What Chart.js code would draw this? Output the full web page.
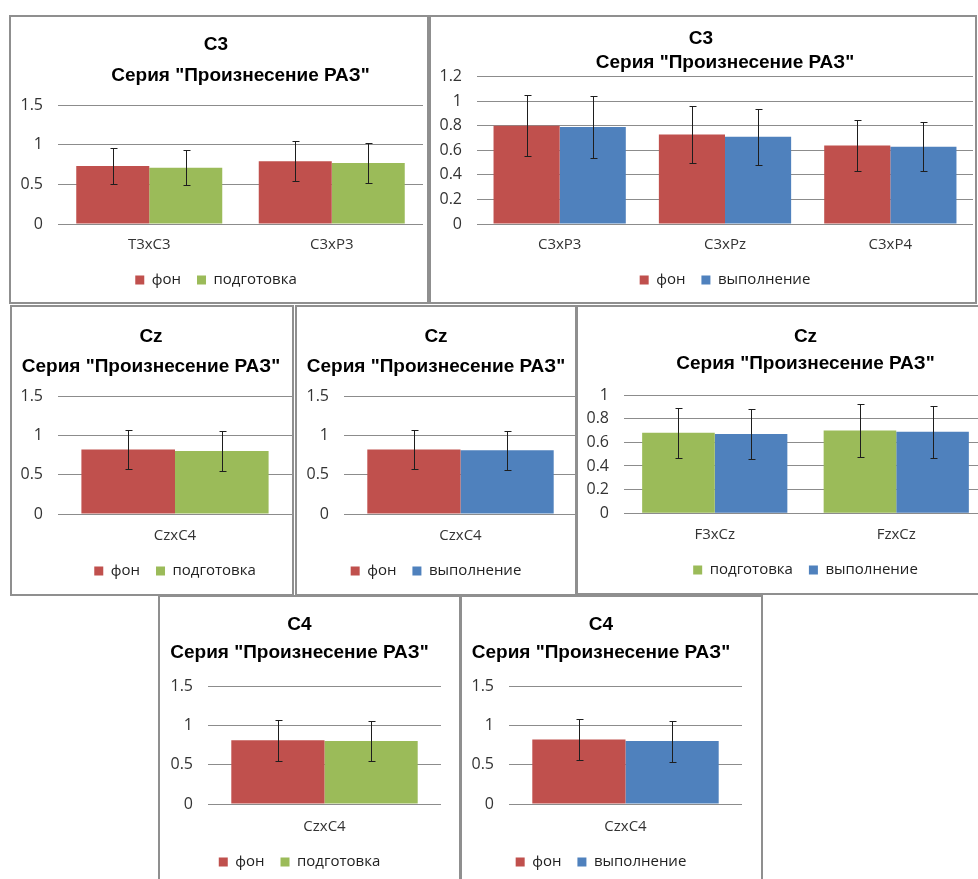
<!DOCTYPE html>
<html>
<head>
<meta charset="utf-8">
<script src="https://cdn.jsdelivr.net/npm/chart.js@4.4.0/dist/chart.umd.min.js"></script>
<style>
    html, body { margin: 0; padding: 0; background: #fff; width: 978px; height: 879px; overflow: hidden; }
    .panel { position: absolute; border: 2px solid #8f8f8f; box-sizing: border-box; }
    canvas { position: absolute; }
</style>
</head>
<body>
<script>
    // names
    const fonName = 'фон';
    const prepName = 'подготовка';
    const execName = 'выполнение';
    const subtitleText = 'Серия "Произнесение РАЗ"';

    // C3: фон / подготовка
    const c3PrepLabels = ['T3xC3', 'C3xP3'];
    const c3PrepFon = [0.73, 0.79];
    const c3PrepFonErr = [0.23, 0.25];
    const c3PrepPrep = [0.71, 0.77];
    const c3PrepPrepErr = [0.22, 0.25];

    // C3: фон / выполнение
    const c3ExecLabels = ['C3xP3', 'C3xPz', 'C3xP4'];
    const c3ExecFon = [0.80, 0.73, 0.64];
    const c3ExecFonErr = [0.25, 0.23, 0.21];
    const c3ExecExec = [0.79, 0.71, 0.63];
    const c3ExecExecErr = [0.25, 0.23, 0.20];

    // Cz: фон / подготовка
    const czPrepLabels = ['CzxC4'];
    const czPrepFon = [0.82];
    const czPrepFonErr = [0.25];
    const czPrepPrep = [0.80];
    const czPrepPrepErr = [0.25];

    // Cz: фон / выполнение
    const czExecLabels = ['CzxC4'];
    const czExecFon = [0.82];
    const czExecFonErr = [0.25];
    const czExecExec = [0.81];
    const czExecExecErr = [0.25];

    // Cz: подготовка / выполнение
    const czPeLabels = ['F3xCz', 'FzxCz'];
    const czPePrep = [0.68, 0.70];
    const czPePrepErr = [0.21, 0.22];
    const czPeExec = [0.67, 0.69];
    const czPeExecErr = [0.21, 0.22];

    // C4: фон / подготовка
    const c4PrepLabels = ['CzxC4'];
    const c4PrepFon = [0.81];
    const c4PrepFonErr = [0.26];
    const c4PrepPrep = [0.80];
    const c4PrepPrepErr = [0.25];

    // C4: фон / выполнение
    const c4ExecLabels = ['CzxC4'];
    const c4ExecFon = [0.82];
    const c4ExecFonErr = [0.26];
    const c4ExecExec = [0.80];
    const c4ExecExecErr = [0.26];

    const RED = '#c0504d', GREEN = '#9bbb59', BLUE = '#4f81bd';

    // box: [x, y, w, h]  area: [left, top, right, bottom]  full: title/subtitle/legend fullSize
    const panels = [
        { box: [9, 15, 420, 289], area: [58, 105, 423, 224], titleY: 45, subY: 76, tickY: 245, legendY: 280,
          title: 'C3', labels: c3PrepLabels, yMax: 1.5, yStep: 0.5, full: [true, false, true],
          series: [[fonName, c3PrepFon, c3PrepFonErr, RED], [prepName, c3PrepPrep, c3PrepPrepErr, GREEN]] },
        { box: [429, 15, 548, 289], area: [477, 76.7, 973, 224], titleY: 39, subY: 63, tickY: 245, legendY: 280,
          title: 'C3', labels: c3ExecLabels, yMax: 1.2, yStep: 0.2, full: [true, false, false],
          series: [[fonName, c3ExecFon, c3ExecFonErr, RED], [execName, c3ExecExec, c3ExecExecErr, BLUE]] },
        { box: [10, 305, 284, 291], area: [58, 396, 292, 514], titleY: 337, subY: 367, tickY: 536, legendY: 571,
          title: 'Cz', labels: czPrepLabels, yMax: 1.5, yStep: 0.5, full: [true, true, false],
          series: [[fonName, czPrepFon, czPrepFonErr, RED], [prepName, czPrepPrep, czPrepPrepErr, GREEN]] },
        { box: [295, 305, 283, 291], area: [344, 396, 577, 514], titleY: 337, subY: 367, tickY: 536, legendY: 571,
          title: 'Cz', labels: czExecLabels, yMax: 1.5, yStep: 0.5, full: [true, true, true],
          series: [[fonName, czExecFon, czExecFonErr, RED], [execName, czExecExec, czExecExecErr, BLUE]] },
        { box: [575, 305, 412, 290], area: [624, 395, 987, 513.3], titleY: 337, subY: 364, tickY: 535, legendY: 570,
          title: 'Cz', labels: czPeLabels, yMax: 1, yStep: 0.2, full: [false, false, false],
          series: [[prepName, czPePrep, czPePrepErr, GREEN], [execName, czPeExec, czPeExecErr, BLUE]] },
        { box: [158, 595, 303, 300], area: [208, 686, 441, 804], titleY: 625, subY: 653, tickY: 827, legendY: 862,
          title: 'C4', labels: c4PrepLabels, yMax: 1.5, yStep: 0.5, full: [true, true, true],
          series: [[fonName, c4PrepFon, c4PrepFonErr, RED], [prepName, c4PrepPrep, c4PrepPrepErr, GREEN]] },
        { box: [460, 595, 303, 300], area: [509, 686, 742, 804], titleY: 625, subY: 653, tickY: 827, legendY: 862,
          title: 'C4', labels: c4ExecLabels, yMax: 1.5, yStep: 0.5, full: [true, true, true],
          series: [[fonName, c4ExecFon, c4ExecFonErr, RED], [execName, c4ExecExec, c4ExecExecErr, BLUE]] }
    ];

    const errorBars = {
        id: 'errorBars',
        afterDatasetsDraw(chart) {
            const ctx = chart.ctx, y = chart.scales.y;
            chart.data.datasets.forEach((ds, i) => {
                chart.getDatasetMeta(i).data.forEach((bar, j) => {
                    const v = ds.data[j], e = ds.errors[j];
                    const x = Math.round(bar.x) + 0.5;
                    const top = Math.round(y.getPixelForValue(v + e)) + 0.5;
                    const bot = Math.round(y.getPixelForValue(v - e)) + 0.5;
                    ctx.save();
                    ctx.strokeStyle = '#1e1e1e';
                    ctx.lineWidth = 1;
                    ctx.beginPath();
                    ctx.moveTo(x, top); ctx.lineTo(x, bot);
                    ctx.moveTo(x - 3, top); ctx.lineTo(x + 4, top);
                    ctx.moveTo(x - 3, bot); ctx.lineTo(x + 4, bot);
                    ctx.stroke();
                    ctx.restore();
                });
            });
        }
    };

    const TITLE_SIZE = 19, SUB_SIZE = 19, TICK_SIZE = 15, YTICK_SIZE = 16, LEG_SIZE = 15, LEG_PAD = 16;

    panels.forEach(p => {
        const [bx, by, bw, bh] = p.box;
        const [aL, aT, aR, aB] = p.area;

        const div = document.createElement('div');
        div.className = 'panel';
        div.style.left = bx + 'px'; div.style.top = by + 'px';
        div.style.width = bw + 'px'; div.style.height = bh + 'px';
        document.body.appendChild(div);

        const cw = Math.max(bw, Math.ceil(aR - bx) + 2);
        const ch = bh;
        const cv = document.createElement('canvas');
        cv.width = cw; cv.height = ch;
        cv.style.left = bx + 'px'; cv.style.top = by + 'px';
        document.body.appendChild(cv);

        const tLH = TITLE_SIZE * 1.2, sLH = SUB_SIZE * 1.2;
        const tPadTop = p.titleY - by - tLH / 2;
        const sPadTop = p.subY - sLH / 2 - (p.titleY + tLH / 2);
        const sPadBot = aT - (p.subY + sLH / 2);
        const half = LEG_SIZE / 2 + 10;
        const padB = (by + ch) - p.legendY - half;
        const legH = LEG_SIZE + LEG_PAD + 10;
        const xH = (p.legendY + half - legH) - aB;
        const yW = aL - bx;

        new Chart(cv.getContext('2d'), {
            type: 'bar',
            data: {
                labels: p.labels,
                datasets: p.series.map(s => ({
                    label: s[0], data: s[1], errors: s[2],
                    backgroundColor: s[3], borderWidth: 0,
                    categoryPercentage: 0.8, barPercentage: 1
                }))
            },
            options: {
                responsive: false,
                animation: false,
                layout: { padding: { left: 0, top: 0, right: (bx + cw) - aR, bottom: padB } },
                plugins: {
                    title: {
                        display: true, text: p.title, color: '#000', fullSize: p.full[0],
                        font: { family: 'Liberation Sans', size: TITLE_SIZE, weight: 'bold' },
                        padding: { top: tPadTop, bottom: 0 }
                    },
                    subtitle: {
                        display: true, text: subtitleText, color: '#000', fullSize: p.full[1],
                        font: { family: 'Liberation Sans', size: SUB_SIZE, weight: 'bold' },
                        padding: { top: sPadTop, bottom: sPadBot }
                    },
                    legend: {
                        position: 'bottom', fullSize: p.full[2],
                        labels: {
                            boxWidth: 9, boxHeight: 9, padding: LEG_PAD, color: '#222',
                            font: { family: 'Open Sans', size: LEG_SIZE }
                        }
                    },
                    tooltip: { enabled: false }
                },
                scales: {
                    x: {
                        grid: { display: false, drawTicks: false },
                        border: { display: false },
                        ticks: {
                            color: '#333', padding: p.tickY - aB - TICK_SIZE * 0.6,
                            font: { family: 'Open Sans', size: TICK_SIZE }
                        },
                        afterFit(s) { s.height = xH; }
                    },
                    y: {
                        min: 0, max: p.yMax,
                        grid: { color: '#8c8c8c', drawTicks: false },
                        border: { display: false },
                        ticks: {
                            stepSize: p.yStep, color: '#333', padding: 15,
                            font: { family: 'Open Sans', size: YTICK_SIZE },
                            callback: v => String(parseFloat(v.toFixed(2)))
                        },
                        afterFit(s) { s.width = yW; }
                    }
                }
            },
            plugins: [errorBars]
        });
    });
</script>
</body>
</html>
